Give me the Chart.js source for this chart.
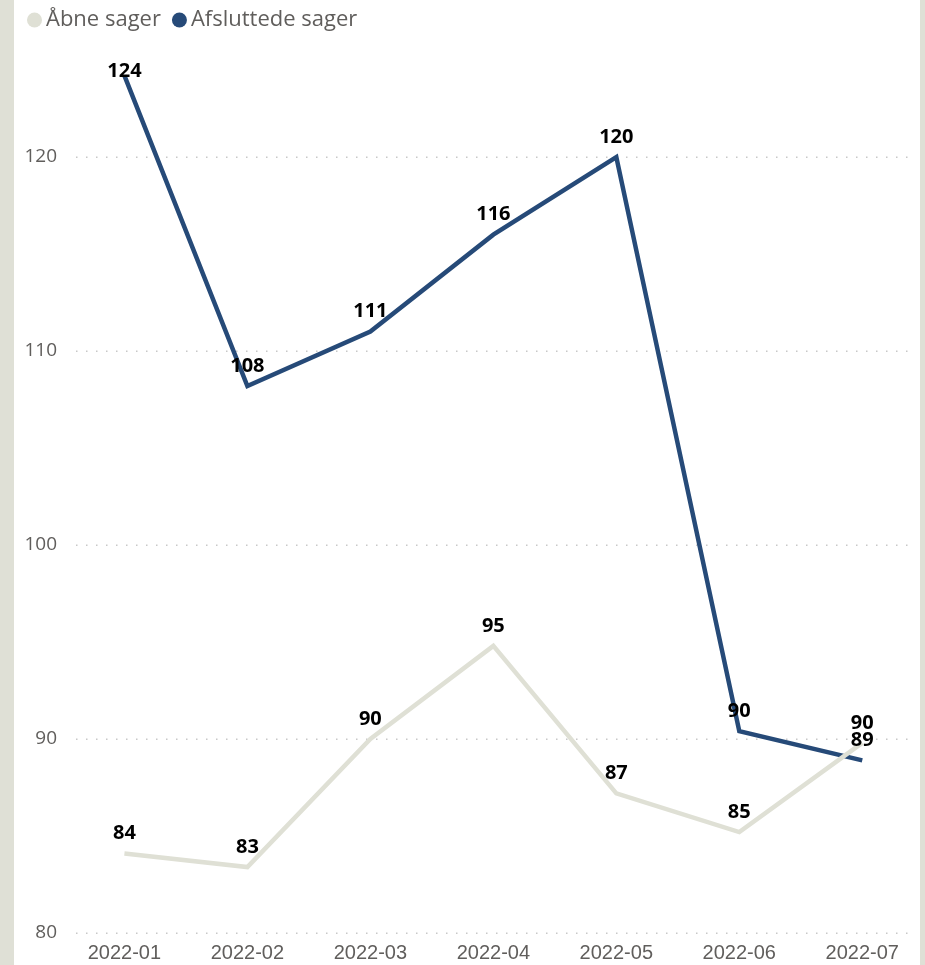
<!DOCTYPE html>
<html>
<head>
<meta charset="utf-8">
<script src="https://cdn.jsdelivr.net/npm/chart.js@4"></script>
<style>
html,body{margin:0;padding:0;background:#dfe0d6;width:925px;height:965px;overflow:hidden;}
#wrap{position:absolute;left:14px;top:0;width:906px;height:965px;background:#ffffff;}
canvas{display:block;}
</style>
</head>
<body>
<div id="wrap"><canvas id="c" width="906" height="965"></canvas></div>
<script>
const categories = ["2022-01","2022-02","2022-03","2022-04","2022-05","2022-06","2022-07"];
const aabneSager = [84.1, 83.4, 90.0, 94.8, 87.2, 85.2, 89.8];
const afsluttedeSager = [124.2, 108.2, 111.0, 116.0, 120.0, 90.4, 88.9];
const yTicks = [80, 90, 100, 110, 120];
const seriesNames = ["Åbne sager", "Afsluttede sager"];
const seriesColors = ["#dfe0d5", "#264a78"];

const legendPlugin = {
  id: 'customLegend',
  afterDraw(chart) {
    const ctx = chart.ctx;
    ctx.save();
    ctx.font = '22px "Open Sans", "Noto Sans", sans-serif';
    ctx.textBaseline = 'middle';
    ctx.textAlign = 'left';
    let x = 13;
    const y = 20;
    chart.data.datasets.forEach((ds, i) => {
      ctx.fillStyle = ds.borderColor;
      ctx.beginPath();
      ctx.arc(x + 7.5, y, 7.5, 0, Math.PI * 2);
      ctx.fill();
      x += 19;
      ctx.fillStyle = '#605e5c';
      ctx.fillText(ds.label, x, y);
      x += ctx.measureText(ds.label).width + 11;
    });
    ctx.restore();
  }
};

const labelPlugin = {
  id: 'pointLabels',
  afterDatasetsDraw(chart) {
    const ctx = chart.ctx;
    const area = chart.chartArea;
    ctx.save();
    ctx.font = 'bold 20px "Open Sans", "Noto Sans", sans-serif';
    ctx.fillStyle = '#000000';
    ctx.textAlign = 'center';
    ctx.textBaseline = 'middle';
    chart.data.datasets.forEach((ds, di) => {
      const meta = chart.getDatasetMeta(di);
      meta.data.forEach((pt, i) => {
        let y = pt.y - 20;
        if (y - 9 < area.top) y = area.top + 9;
        ctx.fillText(String(Math.round(ds.data[i].y)), pt.x, y);
      });
    });
    ctx.restore();
  }
};

const gridPlugin = {
  id: 'dotGrid',
  beforeDatasetsDraw(chart) {
    const ctx = chart.ctx;
    const area = chart.chartArea;
    const ys = chart.scales.y;
    ctx.save();
    ctx.fillStyle = '#c8c8c8';
    yTicks.forEach(v => {
      const y = Math.round(ys.getPixelForValue(v));
      for (let x = area.left + 2; x < area.right; x += 10) {
        ctx.fillRect(x, y - 0.5, 1.5, 1.5);
      }
    });
    ctx.restore();
  }
};

new Chart(document.getElementById('c'), {
  type: 'line',
  data: {
    datasets: [
      {
        label: seriesNames[0],
        data: aabneSager.map((v, i) => ({x: i, y: v})),
        borderColor: seriesColors[0],
        backgroundColor: seriesColors[0],
        borderWidth: 4.5,
        pointRadius: 0,
        tension: 0
      },
      {
        label: seriesNames[1],
        data: afsluttedeSager.map((v, i) => ({x: i, y: v})),
        borderColor: seriesColors[1],
        backgroundColor: seriesColors[1],
        borderWidth: 4.5,
        pointRadius: 0,
        tension: 0
      }
    ]
  },
  options: {
    responsive: false,
    animation: false,
    layout: {padding: {left: 0, right: 11, top: 62, bottom: 0}},
    plugins: {
      legend: {display: false},
      tooltip: {enabled: false}
    },
    scales: {
      x: {
        type: 'linear',
        min: -0.41,
        max: 6.38,
        grid: {display: false, drawTicks: false},
        border: {display: false},
        afterBuildTicks(scale) { scale.ticks = categories.map((c, i) => ({value: i})); },
        afterFit(scale) { scale.height = 32; },
        ticks: {
          autoSkip: false,
          maxRotation: 0,
          padding: 8,
          color: '#605e5c',
          font: {family: '"Liberation Sans", Arial, sans-serif', size: 20},
          callback: (v) => categories[v]
        }
      },
      y: {
        min: 80,
        max: 124.9,
        grid: {display: false, drawTicks: false},
        border: {display: false},
        afterBuildTicks(scale) { scale.ticks = yTicks.map(v => ({value: v})); },
        afterFit(scale) { scale.width = 60; },
        ticks: {
          padding: 17,
          color: '#605e5c',
          font: {family: '"Open Sans", "Noto Sans", sans-serif', size: 19}
        }
      }
    }
  },
  plugins: [gridPlugin, labelPlugin, legendPlugin]
});
</script>
</body>
</html>
